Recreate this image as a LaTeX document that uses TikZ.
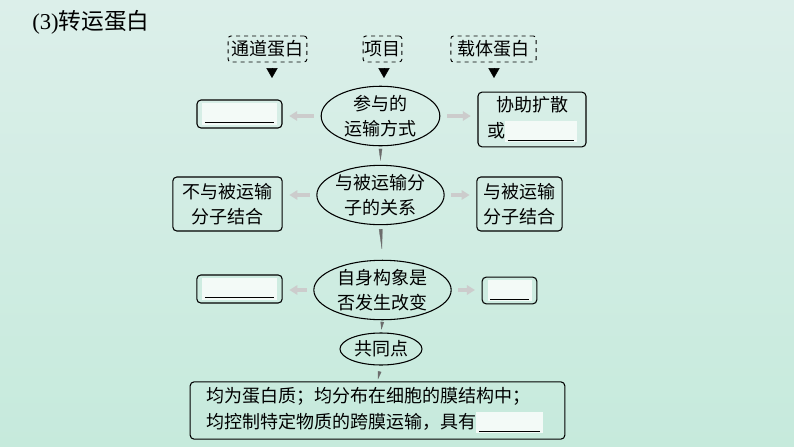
\documentclass[tikz,border=0pt]{standalone}
\usepackage{fontspec}
\newfontfamily\cjk{Noto Sans CJK SC}
\newfontfamily\chiffre{Liberation Serif}
\usetikzlibrary{arrows.meta,shapes.geometric}
\definecolor{fondhaut}{HTML}{DCEFEA}
\definecolor{fondbas}{HTML}{C6EADC}
\definecolor{blanc}{HTML}{F3FAF7}
\newcommand{\trou}[1]{{\setlength{\fboxsep}{0pt}\colorbox{blanc}{\rule[-4pt]{0pt}{16pt}\hspace{2pt}\rule[-3pt]{#1}{0.7pt}\hspace{2pt}}}}
\tikzset{
	texte/.style={font=\cjk\fontsize{13.5}{19}\selectfont,text=black},
	pointille/.style={texte,draw,dashed,line width=0.7pt,rounded corners=2pt,inner sep=0pt,minimum height=19.5pt},
	boite/.style={texte,draw,line width=0.8pt,rounded corners=3pt,inner sep=0pt,align=center},
	bulle/.style={texte,draw,ellipse,line width=0.8pt,inner sep=0pt,align=center},
	fleche/.style={draw=gray!40,line width=2.6pt,-{Triangle[length=6pt,width=7pt]},shorten <=5pt,shorten >=5pt},
	pointe/.style={-{Triangle[length=7.5pt,width=8.5pt]},shorten <=4pt},
	effile/.style={draw=gray!85!black,line width=0.2pt,-{Triangle[length=#1,width=2.6pt]}}
}
\begin{document}
\begin{tikzpicture}[x=0.75pt,y=-0.75pt]
		% Fond
		\shade[top color=fondhaut,bottom color=fondbas] (0,0) rectangle (794,447);
		\node[anchor=west,inner sep=0pt] (titre) at (32,22) {\fontsize{17}{20}\selectfont\chiffre(3)\cjk 转运蛋白};

		% Entetes
		\node[pointille,minimum width=59pt] (canal) at (267.5,49) {通道蛋白};
		\node[pointille,minimum width=29pt] (projet) at (382.5,49) {项目};
		\node[pointille,minimum width=64pt] (porteur) at (493.5,49) {载体蛋白};
		\coordinate (pc) at (272,78);
		\coordinate (pp) at (384,78);
		\coordinate (pt) at (494,78);
		\draw[pointe] (canal.south -| pc) -- (pc);
		\draw[pointe] (projet.south -| pp) -- (pp);
		\draw[pointe] (porteur.south -| pt) -- (pt);

		% Colonne centrale
		\node[bulle,minimum width=89pt,minimum height=43.5pt] (mode) at (380.5,116) {参与的\\运输方式};
		\node[bulle,minimum width=89pt,minimum height=43pt] (relation) at (380.5,195) {与被运输分\\子的关系};
		\node[bulle,minimum width=103pt,minimum height=42pt] (forme) at (382.5,290) {自身构象是\\否发生改变};
		\node[bulle,minimum width=61.5pt,minimum height=24pt] (commun) at (381,349) {共同点};
		\node[boite,minimum width=281pt,minimum height=43pt,align=left,text width=257pt] (bilan) at (377.5,410.5)
			{均为蛋白质；均分布在细胞的膜结构中；\\均控制特定物质的跨膜运输，具有\trou{46pt}};

		% Cotes
		\node[boite,minimum width=63.75pt,minimum height=21pt] (videA) at (239.5,114) {\trou{52pt}};
		\node[boite,minimum width=81pt,minimum height=41pt] (aide) at (532,119.5) {协助扩散\\或\trou{50pt}};
		\node[boite,minimum width=82pt,minimum height=40.5pt] (sans) at (227.5,204) {不与被运输\\分子结合};
		\node[boite,minimum width=64pt,minimum height=40.5pt] (avec) at (519.5,204) {与被运输\\分子结合};
		\node[boite,minimum width=64pt,minimum height=21pt] (videB) at (239.5,289) {\trou{52pt}};
		\node[boite,minimum width=41pt,minimum height=20pt] (videC) at (509.5,290.5) {\trou{29pt}};

		\draw[fleche] (mode.west) -- (mode.west -| videA.east);
		\draw[fleche] (mode.east) -- (mode.east -| aide.west);
		\draw[fleche] (relation.west) -- (relation.west -| sans.east);
		\draw[fleche] (relation.east) -- (relation.east -| avec.west);
		\draw[fleche] (forme.west) -- (forme.west -| videB.east);
		\draw[fleche] (forme.east) -- (forme.east -| videC.west);

		% Liaisons verticales
		\draw[effile=9pt,shorten <=2pt,shorten >=3pt] (mode.south) -- (relation.north);
		\draw[effile=16pt,shorten <=5pt,shorten >=7pt] (relation.south) -- (forme.north);
		\draw[effile=6pt,shorten <=3pt,shorten >=2pt] (forme.south) -- (commun.north);
		\draw[effile=6pt,shorten <=5pt,shorten >=1.5pt] (commun.south) -- (bilan.north);
\end{tikzpicture}
\end{document}
